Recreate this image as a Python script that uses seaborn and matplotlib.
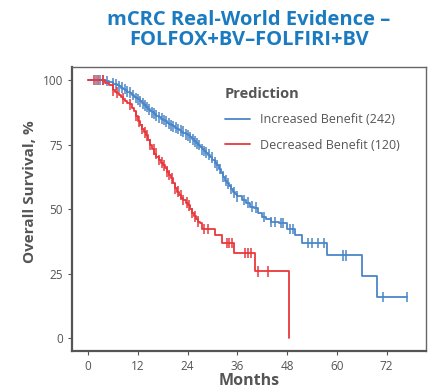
import numpy as np
import pandas as pd
import matplotlib
matplotlib.use("Agg")
import matplotlib.pyplot as plt
import seaborn as sns

# Kaplan-Meier step points (months, survival %)
inc_time = [0, 4, 5, 6, 6.5, 7, 7.5, 8, 8.5, 9, 9.5, 10, 10.5, 11, 11.5, 12, 12.5, 13, 13.5,
            14, 14.5, 15, 15.5, 16, 16.5, 17, 17.5, 18, 18.5, 19, 19.5, 20, 20.5, 21, 21.5,
            22, 22.5, 23, 23.5, 24, 24.5, 25, 25.5, 26, 26.5, 27, 27.5, 28, 28.5, 29, 29.5,
            30, 30.5, 31, 31.5, 32, 32.5, 33, 33.5, 34, 34.5, 35, 35.5, 36, 37, 38, 39, 40,
            41, 42, 43, 44, 46, 48, 50, 51.5, 57.6, 66, 69.6, 77]
inc_surv = [100, 99.6, 99.2, 98.6, 98.3, 98, 97.5, 97, 96.5, 96, 95.5, 95, 94.2, 93.5, 93,
            92.5, 91.8, 91, 90.2, 89.5, 88.7, 88, 87.5, 87, 86.2, 85.5, 85, 84.5, 84, 83.5,
            83, 82.5, 82, 81.5, 81, 80.5, 80, 79.5, 79, 78.5, 77.8, 77, 76.2, 75.5, 74.8, 74,
            73.2, 72.5, 71.8, 71, 70, 69, 68, 67, 65.5, 64, 62.5, 61, 60, 59, 57.8, 56.5,
            55.8, 55, 53.5, 52.5, 51, 50.5, 48.5, 47, 46, 45, 44.6, 42.3, 40, 36.9, 32.2,
            24.1, 16, 16]
inc_cens = [2, 2.8, 3.5, 4.5, 6, 6.8, 7.5, 8.2, 8.8, 9.5, 10.2, 10.8, 11.5, 12, 12.5, 13.2,
            13.8, 14.3, 14.8, 15.5, 16, 16.5, 17.2, 17.8, 18.3, 18.8, 19.5, 20, 20.5, 21.2,
            21.8, 22.3, 22.8, 23.5, 24, 24.5, 25.2, 25.8, 26.3, 26.8, 27.5, 28, 28.5, 29.2,
            29.8, 30.5, 31.2, 31.8, 32.5, 33.2, 33.8, 34.5, 35.2, 36, 37.5, 38.5, 39.5,
            40.5, 42.5, 44, 45, 46.5, 47, 48.7, 49.5, 53, 54, 55.5, 57, 61.4, 62.2, 71, 77]

dec_time = [0, 4, 5, 6, 6.5, 7, 7.5, 8, 8.5, 9, 9.5, 10, 10.5, 11, 11.5, 12, 12.5, 13, 13.5,
            14, 14.5, 15, 15.5, 16, 16.5, 17, 17.5, 18, 18.5, 19, 19.5, 20, 20.5, 21, 21.5,
            22, 22.5, 23, 23.5, 24, 24.5, 25, 25.5, 26, 26.5, 27, 27.5, 30.6, 32.3, 35.2,
            40.2, 48.4]
dec_surv = [100, 99, 98, 96, 95.5, 95, 94.2, 93.5, 92.8, 92, 91.2, 90.5, 89.2, 88, 86, 84,
            82.5, 81, 79.8, 78.5, 76.8, 75, 73.2, 71.5, 70.2, 69, 68, 67, 65.8, 64.5, 63.2,
            62, 60, 58, 56.8, 55.5, 54.5, 53.5, 52.5, 51.5, 50, 48.5, 47.2, 46, 45.2, 44.5,
            42.3, 40, 36.9, 33, 26, 0]
dec_cens = [1.5, 2.5, 3.5, 6, 7, 8.5, 10, 11.5, 12.3, 13, 13.8, 14.3, 15, 15.8, 16.3, 17,
            17.8, 18.3, 19, 19.5, 20.2, 21, 21.8, 22.3, 23, 23.8, 24.3, 25, 25.8, 26.5, 28,
            29, 33.5, 34, 34.7, 37.8, 38.5, 39.3, 41, 43.3]

labels = ["Increased Benefit (242)", "Decreased Benefit (120)"]
colors = ["#4a86c8", "#e8383d"]


def surv_at(times, survs, t):
    idx = np.searchsorted(times, t, side="right") - 1
    return survs[idx]


curves = pd.concat([
    pd.DataFrame({"Months": inc_time, "Survival": inc_surv, "Prediction": labels[0]}),
    pd.DataFrame({"Months": dec_time, "Survival": dec_surv, "Prediction": labels[1]}),
])
cens = pd.concat([
    pd.DataFrame({"Months": inc_cens,
                  "Survival": [surv_at(inc_time, inc_surv, t) for t in inc_cens],
                  "Prediction": labels[0]}),
    pd.DataFrame({"Months": dec_cens,
                  "Survival": [surv_at(dec_time, dec_surv, t) for t in dec_cens],
                  "Prediction": labels[1]}),
])

sns.set_theme(style="white")
plt.rcParams["font.family"] = ["Open Sans", "DejaVu Sans"]
gray = "#555555"

fig = plt.figure(figsize=(4.33, 3.91), dpi=100)
ax = fig.add_axes([0.166, 0.1023, 0.818, 0.7263])

sns.lineplot(data=curves, x="Months", y="Survival", hue="Prediction", palette=colors,
             hue_order=labels, drawstyle="steps-post", estimator=None, sort=False,
             linewidth=1.3, ax=ax, legend=False)
sns.scatterplot(data=cens, x="Months", y="Survival", hue="Prediction", palette=colors,
                hue_order=labels, marker="|", s=60, linewidth=1.1, ax=ax, legend=False)

ax.set_xlim(-3.9, 81.5)
ax.set_ylim(-4.9, 105)
ax.set_xticks([0, 12, 24, 36, 48, 60, 72])
ax.set_yticks([0, 25, 50, 75, 100])
ax.tick_params(axis="both", colors=gray, labelsize=8.5, length=3, width=0.8, direction="out",
               bottom=True, left=True)
for side in ["left", "bottom"]:
    ax.spines[side].set_color(gray)
    ax.spines[side].set_linewidth(1.6)
for side in ["top", "right"]:
    ax.spines[side].set_color("#666666")
    ax.spines[side].set_linewidth(1.0)
ax.set_xlabel("")
ax.set_ylabel("")

handles = [plt.Line2D([], [], color=c, linewidth=1.3) for c in colors]
leg = ax.legend(handles, labels, title="Prediction", loc="upper left",
                bbox_to_anchor=(0.4, 0.97), frameon=False, fontsize=9,
                handlelength=2.0, labelspacing=1.0, alignment="left")
leg.get_title().set_fontweight("bold")
leg.get_title().set_fontsize(10.5)
leg.get_title().set_color(gray)
for t in leg.get_texts():
    t.set_color(gray)

fig.text(0.575, 0.922, "mCRC Real-World Evidence –\nFOLFOX+BV–FOLFIRI+BV",
         ha="center", va="center", fontsize=14.5, fontweight="bold", color="#1b7bc0",
         linespacing=1.0)
fig.text(0.575, 0.026, "Months", ha="center", va="center", fontsize=11.5,
         fontweight="bold", color=gray)
fig.text(0.069, 0.509, "Overall Survival, %", ha="center", va="center", rotation=90,
         fontsize=11, fontweight="bold", color=gray)

fig.savefig("out.png", dpi=100)
